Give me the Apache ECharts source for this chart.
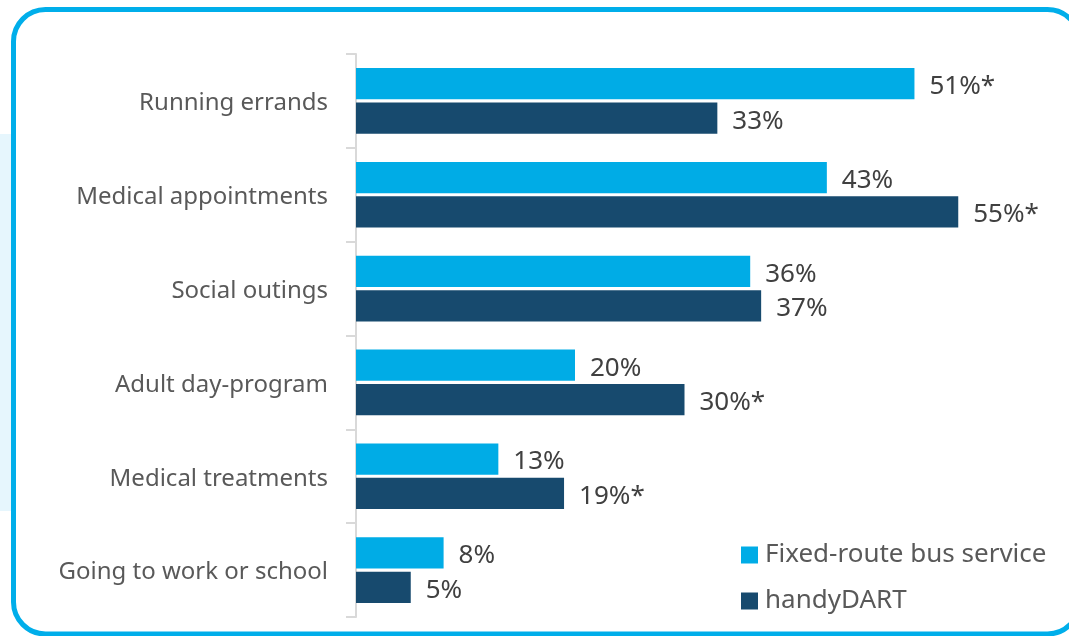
<!DOCTYPE html>
<html>
<head>
<meta charset="utf-8">
<script src="https://cdn.jsdelivr.net/npm/echarts@6/dist/echarts.min.js"></script>
<style>
  html, body { margin: 0; padding: 0; background: #ffffff; }
  #chart { width: 1069px; height: 636px; }
</style>
</head>
<body>
<div id="chart"></div>
<script>
// Trip purposes by service type (% of riders)
const categories = [
  'Running errands',
  'Medical appointments',
  'Social outings',
  'Adult day-program',
  'Medical treatments',
  'Going to work or school'
];
const seriesNames = ['Fixed-route bus service', 'handyDART'];
const fixedRoute = [51, 43, 36, 20, 13, 8];
const handyDart = [33, 55, 37, 30, 19, 5];
// '*' marks a significant difference
const fixedRouteNotes = ['*', '', '', '', '', ''];
const handyDartNotes = ['', '*', '', '*', '*', ''];

const CYAN = '#00ACE6';
const NAVY = '#174A6E';
const FONT = '"Noto Sans", sans-serif';

const chart = echarts.init(document.getElementById('chart'), null, { renderer: 'canvas' });

function valueLabel(notes) {
  return {
    show: true,
    position: 'right',
    distance: 15,
    offset: [0, 3],
    fontFamily: FONT,
    fontSize: 26,
    color: '#404040',
    formatter: p => p.value + '%' + notes[p.dataIndex]
  };
}

chart.setOption({
  backgroundColor: '#ffffff',
  animation: false,
  graphic: [
    {
      type: 'rect', z: -10, silent: true,
      shape: { x: 0, y: 134, width: 14, height: 377 },
      style: { fill: '#E6F6FD' }
    },
    {
      type: 'rect', z: -5, silent: true,
      shape: { x: 13.5, y: 9.5, width: 1066, height: 624.5, r: 32 },
      style: { fill: '#ffffff', stroke: '#00AEEA', lineWidth: 5 }
    }
  ],
  grid: { left: 356, top: 54, width: 657, height: 563, containLabel: false },
  xAxis: {
    type: 'value', min: 0, max: 60, show: false
  },
  yAxis: {
    type: 'category',
    data: categories,
    inverse: true,
    axisLine: { show: true, lineStyle: { color: '#D9D9D9', width: 2 } },
    axisTick: { show: true, length: 10, lineStyle: { color: '#D9D9D9', width: 2 } },
    axisLabel: {
      margin: 28,
      formatter: v => '{c|' + v + '}',
      rich: {
        c: { fontFamily: FONT, fontSize: 24, color: '#595959', padding: [5, 0, 0, 0] }
      }
    }
  },
  legend: {
    orient: 'vertical',
    left: 741, top: 542,
    padding: 0,
    icon: 'rect',
    itemWidth: 17, itemHeight: 17, itemGap: 20,
    textStyle: { fontFamily: FONT, fontSize: 26, color: '#595959', padding: [0, 0, 0, 2] },
    data: seriesNames
  },
  series: [
    {
      name: seriesNames[0], type: 'bar', data: fixedRoute,
      barCategoryGap: '30%', barGap: '10%',
      itemStyle: { color: CYAN },
      label: valueLabel(fixedRouteNotes)
    },
    {
      name: seriesNames[1], type: 'bar', data: handyDart,
      itemStyle: { color: NAVY },
      label: valueLabel(handyDartNotes)
    }
  ]
});
</script>
</body>
</html>
